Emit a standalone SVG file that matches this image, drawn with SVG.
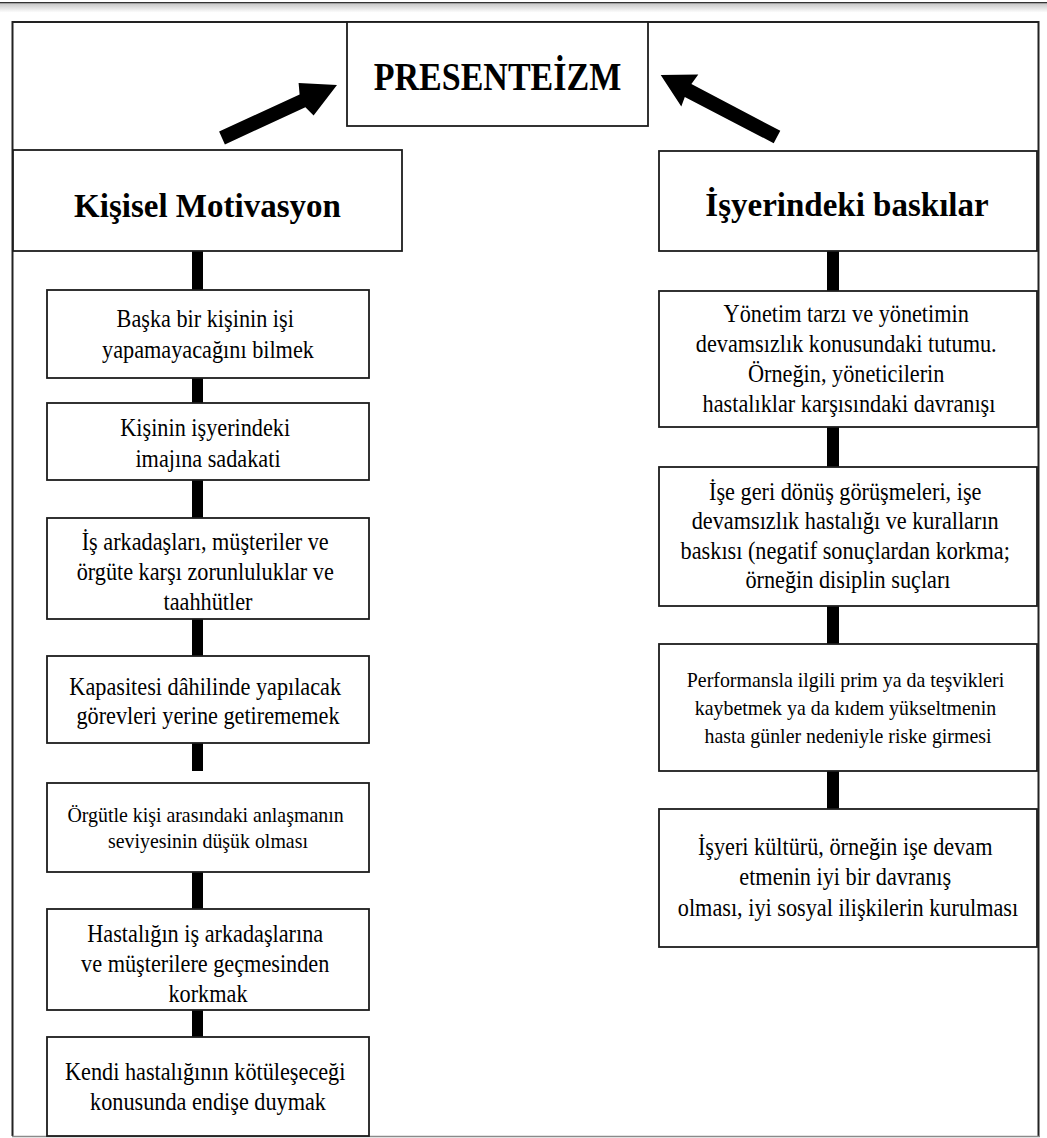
<svg xmlns="http://www.w3.org/2000/svg" width="1047" height="1138" viewBox="0 0 1047 1138">
  <style>
    .box { fill: #ffffff; stroke: #1c1c1c; stroke-width: 1.8; }
    .frame { fill: none; stroke: #222222; stroke-width: 2; }
    .bar { fill: #000000; }
    .arrow { fill: #000000; }
    .t { font-family: "Liberation Serif", "Times New Roman", serif; font-weight: 400; font-size: 25px; fill: #000000; text-anchor: middle; }
    .ts { font-family: "Liberation Serif", "Times New Roman", serif; font-weight: 400; font-size: 20.5px; fill: #000000; text-anchor: middle; }
    .h { font-family: "Liberation Serif", "Times New Roman", serif; font-size: 33px; font-weight: bold; fill: #000000; text-anchor: middle; }
    .title { font-family: "Liberation Serif", "Times New Roman", serif; font-size: 40px; font-weight: bold; fill: #000000; text-anchor: middle; }
  </style>
  <defs>
    <linearGradient id="topShade" x1="0" y1="0" x2="0" y2="1">
      <stop offset="0" stop-color="#c8c8c8"/>
      <stop offset="1" stop-color="#ffffff"/>
    </linearGradient>
  </defs>

  <rect x="0" y="0" width="1047" height="1138" fill="#ffffff"/>

  <!-- page edge band -->
  <rect x="0" y="2" width="1047" height="1.6" fill="#333333"/>
  <rect x="0" y="3.6" width="1047" height="9" fill="url(#topShade)"/>

  <!-- outer frame -->
  <path class="frame" d="M12.5 1136 V22 H1038.5 V1136"/>
  <line x1="12" y1="1136.5" x2="1040" y2="1136.5" stroke="#8a8a8a" stroke-width="1.6"/>

  <!-- connectors -->
  <g id="connectors">
    <polygon class="arrow" points="219.1,131.6 299.6,94.5 298.6,82.9 337,85 313.6,115.5 305.4,107.3 224.9,144.4"/>
    <polygon class="arrow" points="780.3,130.8 691.4,84.1 698.3,74.6 660.7,75 681.3,106.4 684.8,97.0 773.7,143.2"/>

    <rect class="bar" x="192" y="251" width="11" height="39"/>
    <rect class="bar" x="192" y="378" width="11" height="25"/>
    <rect class="bar" x="192" y="480" width="11" height="38"/>
    <rect class="bar" x="192" y="619" width="11" height="37"/>
    <rect class="bar" x="192" y="743" width="11" height="28"/>
    <rect class="bar" x="192" y="872" width="11" height="37"/>
    <rect class="bar" x="192" y="1010" width="11" height="27"/>

    <rect class="bar" x="827" y="251" width="12" height="40"/>
    <rect class="bar" x="827" y="427" width="12" height="40"/>
    <rect class="bar" x="827" y="606" width="12" height="38"/>
    <rect class="bar" x="827" y="771" width="12" height="38"/>
  </g>

  <!-- central concept -->
  <g id="presenteizm">
    <rect class="box" x="347" y="22" width="301" height="104"/>
    <text class="title" transform="translate(497.5 0) scale(0.85 1)"><tspan x="0" y="90">PRESENTEİZM</tspan></text>
  </g>

  <!-- left column -->
  <g id="kisisel-motivasyon">
    <rect class="box" x="13" y="150" width="389" height="101"/>
    <text class="h"><tspan x="207.5" y="217">Kişisel Motivasyon</tspan></text>
  </g>

  <g id="left-1">
    <rect class="box" x="47" y="290" width="322" height="88"/>
    <text class="t" transform="translate(208 0) scale(0.89 1)">
      <tspan x="0" y="327">Başka bir kişinin işi</tspan>
      <tspan x="0" y="358">yapamayacağını bilmek</tspan>
    </text>
  </g>

  <g id="left-2">
    <rect class="box" x="47" y="403" width="322" height="77"/>
    <text class="t" transform="translate(208 0) scale(0.89 1)">
      <tspan x="0" y="436">Kişinin işyerindeki</tspan>
      <tspan x="0" y="467">imajına sadakati</tspan>
    </text>
  </g>

  <g id="left-3">
    <rect class="box" x="47" y="518" width="322" height="101"/>
    <text class="t" transform="translate(208 0) scale(0.89 1)">
      <tspan x="0" y="550">İş arkadaşları, müşteriler ve</tspan>
      <tspan x="0" y="580">örgüte karşı zorunluluklar ve</tspan>
      <tspan x="0" y="610">taahhütler</tspan>
    </text>
  </g>

  <g id="left-4">
    <rect class="box" x="47" y="656" width="322" height="87"/>
    <text class="t" transform="translate(208 0) scale(0.89 1)">
      <tspan x="0" y="695">Kapasitesi dâhilinde yapılacak</tspan>
      <tspan x="0" y="724">görevleri yerine getirememek</tspan>
    </text>
  </g>

  <g id="left-5">
    <rect class="box" x="47" y="783" width="322" height="89"/>
    <text class="ts" transform="translate(208 0) scale(0.97 1)">
      <tspan x="0" y="822">Örgütle kişi arasındaki anlaşmanın</tspan>
      <tspan x="0" y="848">seviyesinin düşük olması</tspan>
    </text>
  </g>

  <g id="left-6">
    <rect class="box" x="47" y="909" width="322" height="101"/>
    <text class="t" transform="translate(208 0) scale(0.89 1)">
      <tspan x="0" y="942">Hastalığın iş arkadaşlarına</tspan>
      <tspan x="0" y="972">ve müşterilere geçmesinden</tspan>
      <tspan x="0" y="1002">korkmak</tspan>
    </text>
  </g>

  <g id="left-7">
    <rect class="box" x="47" y="1037" width="322" height="99"/>
    <text class="t" transform="translate(208 0) scale(0.89 1)">
      <tspan x="0" y="1080">Kendi hastalığının kötüleşeceği</tspan>
      <tspan x="0" y="1110">konusunda endişe duymak</tspan>
    </text>
  </g>

  <!-- right column -->
  <g id="isyerindeki-baskilar">
    <rect class="box" x="659" y="151" width="378" height="100"/>
    <text class="h"><tspan x="847" y="216">İşyerindeki baskılar</tspan></text>
  </g>

  <g id="right-1">
    <rect class="box" x="659" y="291" width="378" height="136"/>
    <text class="t" transform="translate(849 0) scale(0.89 1)">
      <tspan x="0" y="322">Yönetim tarzı ve yönetimin</tspan>
      <tspan x="0" y="352">devamsızlık konusundaki tutumu.</tspan>
      <tspan x="0" y="382">Örneğin, yöneticilerin</tspan>
      <tspan x="0" y="412">hastalıklar karşısındaki davranışı</tspan>
    </text>
  </g>

  <g id="right-2">
    <rect class="box" x="659" y="467" width="378" height="139"/>
    <text class="t" transform="translate(848 0) scale(0.89 1)">
      <tspan x="0" y="500">İşe geri dönüş görüşmeleri, işe</tspan>
      <tspan x="0" y="529.5">devamsızlık hastalığı ve kuralların</tspan>
      <tspan x="0" y="559">baskısı (negatif sonuçlardan korkma;</tspan>
      <tspan x="0" y="588">örneğin disiplin suçları</tspan>
    </text>
  </g>

  <g id="right-3">
    <rect class="box" x="659" y="644" width="378" height="127"/>
    <text class="ts" transform="translate(848 0) scale(0.97 1)">
      <tspan x="0" y="687">Performansla ilgili prim ya da teşvikleri</tspan>
      <tspan x="0" y="715">kaybetmek ya da kıdem yükseltmenin</tspan>
      <tspan x="0" y="743">hasta günler nedeniyle riske girmesi</tspan>
    </text>
  </g>

  <g id="right-4">
    <rect class="box" x="659" y="809" width="378" height="138"/>
    <text class="t" transform="translate(848 0) scale(0.89 1)">
      <tspan x="0" y="855">İşyeri kültürü, örneğin işe devam</tspan>
      <tspan x="0" y="885">etmenin iyi bir davranış</tspan>
      <tspan x="0" y="916">olması, iyi sosyal ilişkilerin kurulması</tspan>
    </text>
  </g>
</svg>
